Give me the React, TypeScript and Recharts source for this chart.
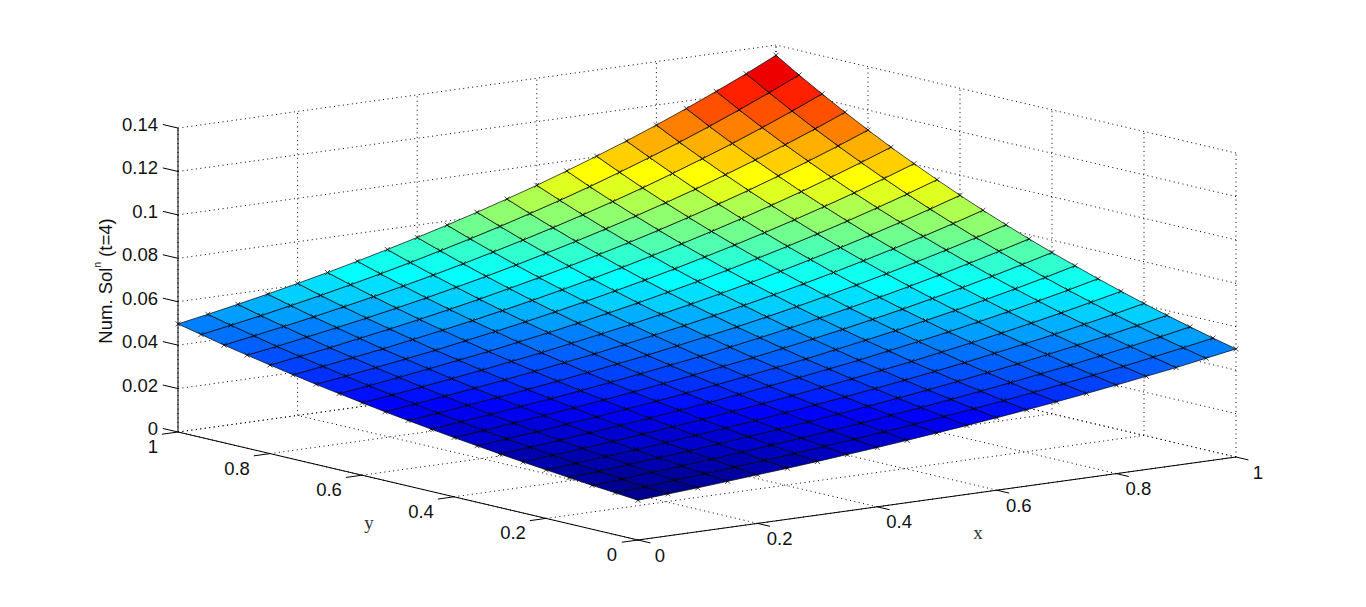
import React from 'react';
import { ComposedChart, Line, Scatter, XAxis, YAxis } from 'recharts';

const W = 1366;
const H = 607;

const gridX = [0, 0.05, 0.1, 0.15, 0.2, 0.25, 0.3, 0.35, 0.4, 0.45, 0.5, 0.55, 0.6, 0.65, 0.7, 0.75, 0.8, 0.85, 0.9, 0.95, 1];
const gridY = gridX;

// surface height, row = y, column = x
const zRows = [
  [.0183, .0193, .0202, .0213, .0224, .0235, .0247, .0260, .0273, .0287, .0302, .0317, .0334, .0351, .0369, .0388, .0408, .0429, .0450, .0474, .0498],
  [.0193, .0202, .0213, .0224, .0235, .0247, .0260, .0273, .0287, .0302, .0317, .0334, .0351, .0369, .0388, .0408, .0429, .0450, .0474, .0498, .0523],
  [.0202, .0213, .0224, .0235, .0247, .0260, .0273, .0287, .0302, .0317, .0334, .0351, .0369, .0388, .0408, .0429, .0450, .0474, .0498, .0523, .0550],
  [.0213, .0224, .0235, .0247, .0260, .0273, .0287, .0302, .0317, .0334, .0351, .0369, .0388, .0408, .0429, .0450, .0474, .0498, .0523, .0550, .0578],
  [.0224, .0235, .0247, .0260, .0273, .0287, .0302, .0317, .0334, .0351, .0369, .0388, .0408, .0429, .0450, .0474, .0498, .0523, .0550, .0578, .0608],
  [.0235, .0247, .0260, .0273, .0287, .0302, .0317, .0334, .0351, .0369, .0388, .0408, .0429, .0450, .0474, .0498, .0523, .0550, .0578, .0608, .0639],
  [.0247, .0260, .0273, .0287, .0302, .0317, .0334, .0351, .0369, .0388, .0408, .0429, .0450, .0474, .0498, .0523, .0550, .0578, .0608, .0639, .0672],
  [.0260, .0273, .0287, .0302, .0317, .0334, .0351, .0369, .0388, .0408, .0429, .0450, .0474, .0498, .0523, .0550, .0578, .0608, .0639, .0672, .0707],
  [.0273, .0287, .0302, .0317, .0334, .0351, .0369, .0388, .0408, .0429, .0450, .0474, .0498, .0523, .0550, .0578, .0608, .0639, .0672, .0707, .0743],
  [.0287, .0302, .0317, .0334, .0351, .0369, .0388, .0408, .0429, .0450, .0474, .0498, .0523, .0550, .0578, .0608, .0639, .0672, .0707, .0743, .0781],
  [.0302, .0317, .0334, .0351, .0369, .0388, .0408, .0429, .0450, .0474, .0498, .0523, .0550, .0578, .0608, .0639, .0672, .0707, .0743, .0781, .0821],
  [.0317, .0334, .0351, .0369, .0388, .0408, .0429, .0450, .0474, .0498, .0523, .0550, .0578, .0608, .0639, .0672, .0707, .0743, .0781, .0821, .0863],
  [.0334, .0351, .0369, .0388, .0408, .0429, .0450, .0474, .0498, .0523, .0550, .0578, .0608, .0639, .0672, .0707, .0743, .0781, .0821, .0863, .0907],
  [.0351, .0369, .0388, .0408, .0429, .0450, .0474, .0498, .0523, .0550, .0578, .0608, .0639, .0672, .0707, .0743, .0781, .0821, .0863, .0907, .0954],
  [.0369, .0388, .0408, .0429, .0450, .0474, .0498, .0523, .0550, .0578, .0608, .0639, .0672, .0707, .0743, .0781, .0821, .0863, .0907, .0954, .1003],
  [.0388, .0408, .0429, .0450, .0474, .0498, .0523, .0550, .0578, .0608, .0639, .0672, .0707, .0743, .0781, .0821, .0863, .0907, .0954, .1003, .1054],
  [.0408, .0429, .0450, .0474, .0498, .0523, .0550, .0578, .0608, .0639, .0672, .0707, .0743, .0781, .0821, .0863, .0907, .0954, .1003, .1054, .1108],
  [.0429, .0450, .0474, .0498, .0523, .0550, .0578, .0608, .0639, .0672, .0707, .0743, .0781, .0821, .0863, .0907, .0954, .1003, .1054, .1108, .1165],
  [.0450, .0474, .0498, .0523, .0550, .0578, .0608, .0639, .0672, .0707, .0743, .0781, .0821, .0863, .0907, .0954, .1003, .1054, .1108, .1165, .1225],
  [.0474, .0498, .0523, .0550, .0578, .0608, .0639, .0672, .0707, .0743, .0781, .0821, .0863, .0907, .0954, .1003, .1054, .1108, .1165, .1225, .1287],
  [.0498, .0523, .0550, .0578, .0608, .0639, .0672, .0707, .0743, .0781, .0821, .0863, .0907, .0954, .1003, .1054, .1108, .1165, .1225, .1287, .1353],
];

const xyTicks = [0, 0.2, 0.4, 0.6, 0.8, 1];
const xyTickLabels = ['0', '0.2', '0.4', '0.6', '0.8', '1'];
const zTicks = [0, 0.02, 0.04, 0.06, 0.08, 0.1, 0.12, 0.14];
const zTickLabels = ['0', '0.02', '0.04', '0.06', '0.08', '0.1', '0.12', '0.14'];

const ZMAX = 0.14;
const SANS = '"Liberation Sans", Arial, sans-serif';
const SERIF = '"Liberation Serif", "Times New Roman", serif';

// orthographic camera of the 3D axes
const cam = { ox: 638, oy: 540, xx: 598, xy: -83, yx: -460, yy: -108, zy: -2171 };

const project = (x: number, y: number, z: number) => ({
  sx: cam.ox + cam.xx * x + cam.yx * y,
  sy: cam.oy + cam.xy * x + cam.yy * y + cam.zy * z,
});

// 64 step jet colormap, same as matlab
const jet = (z: number) => {
  const zMin = zRows[0][0];
  const zMax = zRows[20][20];
  const i = Math.min(63, Math.floor(((z - zMin) / (zMax - zMin)) * 64));
  const v = (i + 1) / 64;
  const c = (a: number) => Math.round(Math.max(0, Math.min(1, a)) * 255);
  const r = c(Math.min(4 * v - 1.5, -4 * v + 4.5));
  const g = c(Math.min(4 * v - 0.5, -4 * v + 3.5));
  const b = c(Math.min(4 * v + 0.5, -4 * v + 2.5));
  return `rgb(${r},${g},${b})`;
};

type Seg = { id: string; pts: { sx: number; sy: number }[] };

const dotted: Seg[] = [];
xyTicks.forEach((t) => {
  dotted.push({ id: `fx${t}`, pts: [project(t, 0, 0), project(t, 1, 0)] });
  dotted.push({ id: `fy${t}`, pts: [project(0, t, 0), project(1, t, 0)] });
  dotted.push({ id: `wx${t}`, pts: [project(t, 1, 0), project(t, 1, ZMAX)] });
  dotted.push({ id: `wy${t}`, pts: [project(1, t, 0), project(1, t, ZMAX)] });
});
zTicks.forEach((k) => {
  dotted.push({ id: `zl${k}`, pts: [project(0, 1, k), project(1, 1, k)] });
  dotted.push({ id: `zr${k}`, pts: [project(1, 0, k), project(1, 1, k)] });
});

const solid: Seg[] = [
  { id: 'ax', pts: [project(0, 0, 0), project(1, 0, 0)] },
  { id: 'ay', pts: [project(0, 0, 0), project(0, 1, 0)] },
  { id: 'az', pts: [project(0, 1, 0), project(0, 1, ZMAX)] },
];
xyTicks.forEach((t) => {
  solid.push({ id: `tx${t}`, pts: [project(t, 0, 0), project(t, -0.027, 0)] });
  solid.push({ id: `ty${t}`, pts: [project(0, t, 0), project(-0.027, t, 0)] });
});
zTicks.forEach((k) => {
  solid.push({ id: `tz${k}`, pts: [project(0, 1, k), project(0, 1.033, k)] });
});

const cells: (Seg & { fill: string })[] = [];
for (let i = 0; i < gridY.length - 1; i++) {
  for (let j = 0; j < gridX.length - 1; j++) {
    cells.push({
      id: `c${i}-${j}`,
      fill: jet(zRows[i][j]),
      pts: [
        project(gridX[j], gridY[i], zRows[i][j]),
        project(gridX[j + 1], gridY[i], zRows[i][j + 1]),
        project(gridX[j + 1], gridY[i + 1], zRows[i + 1][j + 1]),
        project(gridX[j], gridY[i + 1], zRows[i + 1][j]),
      ],
    });
  }
}

const vertices = zRows.flatMap((row, i) => row.map((z, j) => project(gridX[j], gridY[i], z)));

const labelAt = (p: { sx: number; sy: number }, dx: number, dy: number, label: string) => ({
  sx: p.sx + dx,
  sy: p.sy + dy,
  label,
});

const xLabels = xyTicks.map((t, i) => labelAt(project(t, 0, 0), 22, 15, xyTickLabels[i]));
const yLabels = xyTicks.map((t, i) => labelAt(project(0, t, 0), i === 5 ? -25 : i === 0 ? -26 : -33, 14.5, xyTickLabels[i]));
const zLabels = zTicks.map((k, i) => labelAt(project(0, 1, k), -20, -3.5, zTickLabels[i]));

const xTitle = [{ sx: 978, sy: 532, label: 'x' }];
const yTitle = [{ sx: 369, sy: 522, label: 'y' }];
const zTitle = [{ sx: 105, sy: 281, label: 'Num. Sol' }];

const tickText = (anchor: string) => (p: any) => (
  <text x={p.cx} y={p.cy} textAnchor={anchor} dominantBaseline="central" fontFamily={SANS} fontSize={18.5} fill="#111">
    {p.payload.label}
  </text>
);

const serifText = (p: any) => (
  <text x={p.cx} y={p.cy} textAnchor="middle" dominantBaseline="central" fontFamily={SERIF} fontSize={19} fill="#333">
    {p.payload.label}
  </text>
);

const zTitleText = (p: any) => (
  <text
    transform={`rotate(-90 ${p.cx} ${p.cy})`}
    x={p.cx}
    y={p.cy}
    textAnchor="middle"
    dominantBaseline="central"
    fontFamily={SANS}
    fontSize={18.5}
    fill="#111"
  >
    {p.payload.label}
    <tspan dy={-8} fontSize={10}>n</tspan>
    <tspan dy={8}> (t=4)</tspan>
  </text>
);

const crossMark = (p: any) => (
  <path d={`M${p.cx - 2.5} ${p.cy - 2.5}L${p.cx + 2.5} ${p.cy + 2.5}M${p.cx - 2.5} ${p.cy + 2.5}L${p.cx + 2.5} ${p.cy - 2.5}`} stroke="#000" strokeWidth={0.7} fill="none" />
);

const cellDot = (fill: string) => (p: any) => {
  if (p.index !== 0) return <g key={p.key ?? p.index} />;
  const pts = p.points.map((q: any) => `${q.x},${q.y}`).join(' ');
  return <polygon key={p.key ?? p.index} points={pts} fill={fill} stroke="#000" strokeWidth={0.7} strokeLinejoin="round" />;
};

export default function App() {
  return (
    <div style={{ position: 'absolute', left: 0, top: 0, width: W, height: H, background: '#fff' }}>
      <ComposedChart width={W} height={H} margin={{ top: 0, right: 0, bottom: 0, left: 0 }}>
        <XAxis type="number" dataKey="sx" domain={[0, W]} hide allowDataOverflow />
        <YAxis type="number" dataKey="sy" domain={[0, H]} reversed hide allowDataOverflow />

        {dotted.map((s) => (
          <Line key={s.id} data={s.pts} dataKey="sy" stroke="#000" strokeWidth={1} strokeDasharray="1 3.5" dot={false} activeDot={false} isAnimationActive={false} legendType="none" />
        ))}
        {solid.map((s) => (
          <Line key={s.id} data={s.pts} dataKey="sy" stroke="#000" strokeWidth={1} dot={false} activeDot={false} isAnimationActive={false} legendType="none" />
        ))}
        {cells.map((c) => (
          <Line key={c.id} data={c.pts} dataKey="sy" stroke="none" dot={cellDot(c.fill)} activeDot={false} isAnimationActive={false} legendType="none" />
        ))}

        <Scatter data={vertices} shape={crossMark} isAnimationActive={false} />
        <Scatter data={xLabels} shape={tickText('middle')} isAnimationActive={false} />
        <Scatter data={yLabels} shape={tickText('middle')} isAnimationActive={false} />
        <Scatter data={zLabels} shape={tickText('end')} isAnimationActive={false} />
        <Scatter data={xTitle} shape={serifText} isAnimationActive={false} />
        <Scatter data={yTitle} shape={serifText} isAnimationActive={false} />
        <Scatter data={zTitle} shape={zTitleText} isAnimationActive={false} />
      </ComposedChart>
    </div>
  );
}
